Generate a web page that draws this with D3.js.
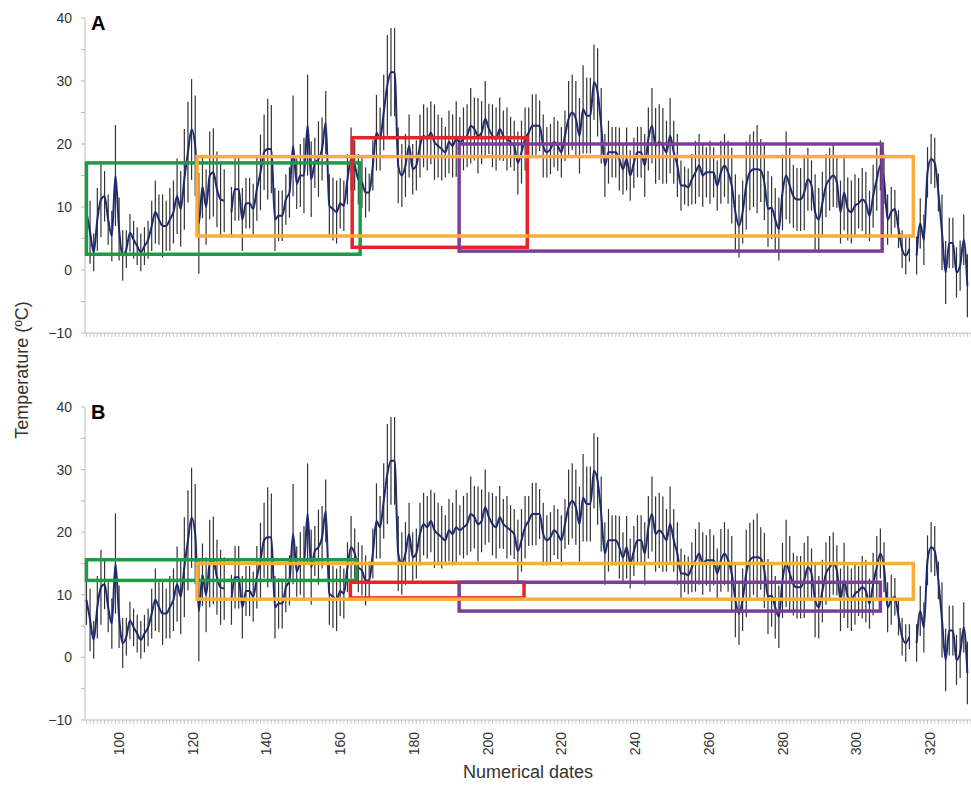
<!DOCTYPE html>
<html>
<head>
<meta charset="utf-8">
<script src="https://cdn.jsdelivr.net/npm/d3@7"></script>
<style>
body { margin: 0; background: #fff; }
text { font-family: Arial, "Liberation Sans", sans-serif; }
</style>
</head>
<body>
<svg id="chart" width="971" height="786"></svg>
<script>
// daily mean temperature, days 91..334 (null = no data)
const startDay = 91
const temps = [
9.2,6,2.8,8,11.2,11.7,8,5.4,15,6.5,2.3,3.3,5.9,4.8,3.8,2.8,3.8,4.8,7,9.2,
8,7,7,8,9.2,11.7,9.7,14.4,18.7,22.3,19.7,7.4,13.2,10,15,15.5,12.8,11.2,11,null,
9.2,12.8,12.8,8,10.6,10.6,9.7,12.8,15.5,18.7,19.2,19.2,8,8.6,8.6,11.2,12.3,19.7,13.7,15,
15,23,14.4,17,17.6,19.2,23.4,10.2,9.7,9.2,10.6,10.2,14.4,17.6,16.6,14.4,13.9,12.3,12.3,16.6,
21.8,20.8,25,29.3,31.4,31.4,16.6,15,16.6,19.7,16,16.6,19.7,21.3,20.8,21.8,20.3,19.7,19.2,18.7,
20.3,19.7,20.8,20.3,20.8,21.3,22.9,22.4,21.3,21.8,24,22.4,21.3,20.8,22.4,21.3,20.8,20.3,19.7,17,
18.7,20.8,21.8,22.9,22.9,22.9,19.7,18.7,19.2,20.3,19.7,18.7,21.3,24,25,24,21.3,25.5,24.5,24.5,
29.8,28.2,22.9,16.6,18.7,18.7,18.7,17.6,16,17.6,15,17,18.7,18.7,16.6,20.8,22.9,19.7,20.3,19.7,
18.7,21.3,18.7,16.6,13.4,13.4,13.1,14.4,15.5,16.6,15,15.5,15.5,15.5,13.4,15.5,16.6,15.5,13.4,9.2,
7,9.2,13.4,15.5,16,16,15.8,13.9,9.7,9.9,8,6.5,12.3,15,13.4,11.7,11.2,11.2,12.3,14.4,
13.4,9.2,8,10.6,13.4,14.4,15,13.9,9.2,12.3,9.7,9.2,10.2,10.6,11.2,10.6,8.6,11.7,14.4,16.6,
14.4,8,9.2,9.7,6.5,3.3,2.3,3.3,null,2.3,7.4,4.8,15.5,17.6,17,12.3,6,-0.4,4.3,4.3,
-0.4,0.7,4.8,-2.5
]
// half length of the error bars
const errs = [
4,5,3,5,6,4,4,4,8,5,4,3,3,3,3,3,3,3,4,5,
4,5,4,5,5,6,6,8,8,8,8,8,5,6,7,7,6,6,5,0,
4,5,5,5,4,4,4,5,6,6,8,7,5,4,4,4,4,8,4,5,
6,8,6,4,6,5,5,5,5,5,4,4,4,5,4,4,4,4,3,4,
6,5,6,8,7,7,6,5,5,5,4,4,5,5,5,5,6,5,5,4,
5,5,6,4,5,5,6,5,6,5,6,4,5,5,5,4,5,4,4,5,
5,5,4,5,5,4,5,4,4,4,4,4,4,6,6,6,6,7,6,6,
6,7,6,5,5,4,4,5,4,5,4,4,4,4,5,5,6,6,6,6,
5,6,5,5,4,3,3,4,5,5,5,4,5,4,4,5,5,5,6,6,
5,5,7,6,6,7,5,6,6,5,5,5,6,7,6,5,5,5,6,5,
4,6,5,5,5,5,5,4,5,6,5,5,5,4,5,5,4,5,5,4,
4,4,4,3,3,3,3,2,0,3,4,4,4,4,4,3,6,5,4,4,
4,4,4,5
]
const yTicks = [-10, 0, 10, 20, 30, 40]
const xTicks = [100, 120, 140, 160, 180, 200, 220, 240, 260, 280, 300, 320]

// region boxes [dayStart, dayEnd, tempLow, tempHigh, colour]
const boxesA = [
  [91, 166.5, 2.5, 17, '#1f9a45'],
  [164.3, 212.6, 3.6, 21, '#e82229'],
  [193.8, 310.5, 3, 20, '#7b3f98'],
  [121.5, 319.1, 5.4, 18, '#f9ae3a']
]
const boxesB = [
  [91, 165.5, 12.3, 15.6, '#1f9a45'],
  [163.8, 211.7, 9.5, 12, '#e82229'],
  [193.8, 310, 7.4, 12, '#7b3f98'],
  [121.5, 319.1, 9.3, 15, '#f9ae3a']
]

const days = temps.map((d, i) => startDay + i)
const svg = d3.select('#chart')
const x = d3.scaleLinear().domain([90.6, 335]).range([85, 971])
const xLab = d3.scaleLinear().domain([100, 320]).range([119, 930])

function panel(top, bottom, label, boxes, showLabels) {
  const y = d3.scaleLinear().domain([-10, 40]).range([bottom, top])
  const g = svg.append('g')

  // y axis
  g.append('line').attr('x1', 85).attr('x2', 85).attr('y1', top).attr('y2', bottom)
    .style('stroke', '#bbb')
  d3.range(-10, 41, 5).forEach(v => {
    g.append('line').attr('x1', 81).attr('x2', 85).attr('y1', y(v)).attr('y2', y(v))
      .style('stroke', '#bbb')
  })
  yTicks.forEach(v => {
    g.append('text').attr('x', 72).attr('y', y(v) + 5).attr('text-anchor', 'end')
      .style('font-size', '14px').style('fill', '#333').text(v < 0 ? '\u2212' + (-v) : v)
  })
  // x axis with day ticks
  g.append('line').attr('x1', 85).attr('x2', 971).attr('y1', bottom).attr('y2', bottom)
    .style('stroke', '#bbb')
  d3.range(91, 336).forEach(d => {
    g.append('line').attr('x1', x(d)).attr('x2', x(d)).attr('y1', bottom).attr('y2', bottom + 4)
      .style('stroke', '#bbb').style('stroke-width', 0.8)
  })
  if (showLabels) {
    xTicks.forEach(d => {
      g.append('text').attr('transform', `translate(${xLab(d) + 5},${bottom + 12}) rotate(-90)`)
        .attr('text-anchor', 'end').style('font-size', '14px').style('fill', '#333').text(d)
    })
  }

  // error bars
  days.forEach((d, i) => {
    if (temps[i] === null) return
    g.append('line').attr('x1', x(d)).attr('x2', x(d))
      .attr('y1', y(temps[i] - errs[i])).attr('y2', y(temps[i] + errs[i]))
      .style('stroke', '#333').style('stroke-width', 1.2)
  })
  // mean line
  const line = d3.line().defined(d => d[1] !== null).x(d => x(d[0])).y(d => y(d[1]))
    .curve(d3.curveMonotoneX)
  g.append('path').datum(days.map((d, i) => [d, temps[i]])).attr('d', line)
    .style('fill', 'none').style('stroke', '#1f2a6e').style('stroke-width', 2)

  boxes.forEach(b => {
    g.append('rect').attr('x', x(b[0])).attr('y', y(b[3]))
      .attr('width', x(b[1]) - x(b[0])).attr('height', y(b[2]) - y(b[3]))
      .style('fill', 'none').style('stroke', b[4]).style('stroke-width', 3.5)
  })

  g.append('text').attr('x', 91).attr('y', top + 12).style('font-size', '20px')
    .style('font-weight', 'bold').text(label)
}

panel(18, 333, 'A', boxesA, false)
panel(407, 720, 'B', boxesB, true)

svg.append('text').attr('transform', 'translate(28,370) rotate(-90)').attr('text-anchor', 'middle')
  .style('font-size', '18px').style('fill', '#333').text('Temperature (ºC)')
svg.append('text').attr('x', 528).attr('y', 778).attr('text-anchor', 'middle')
  .style('font-size', '18px').style('fill', '#333').text('Numerical dates')
</script>
</body>
</html>
